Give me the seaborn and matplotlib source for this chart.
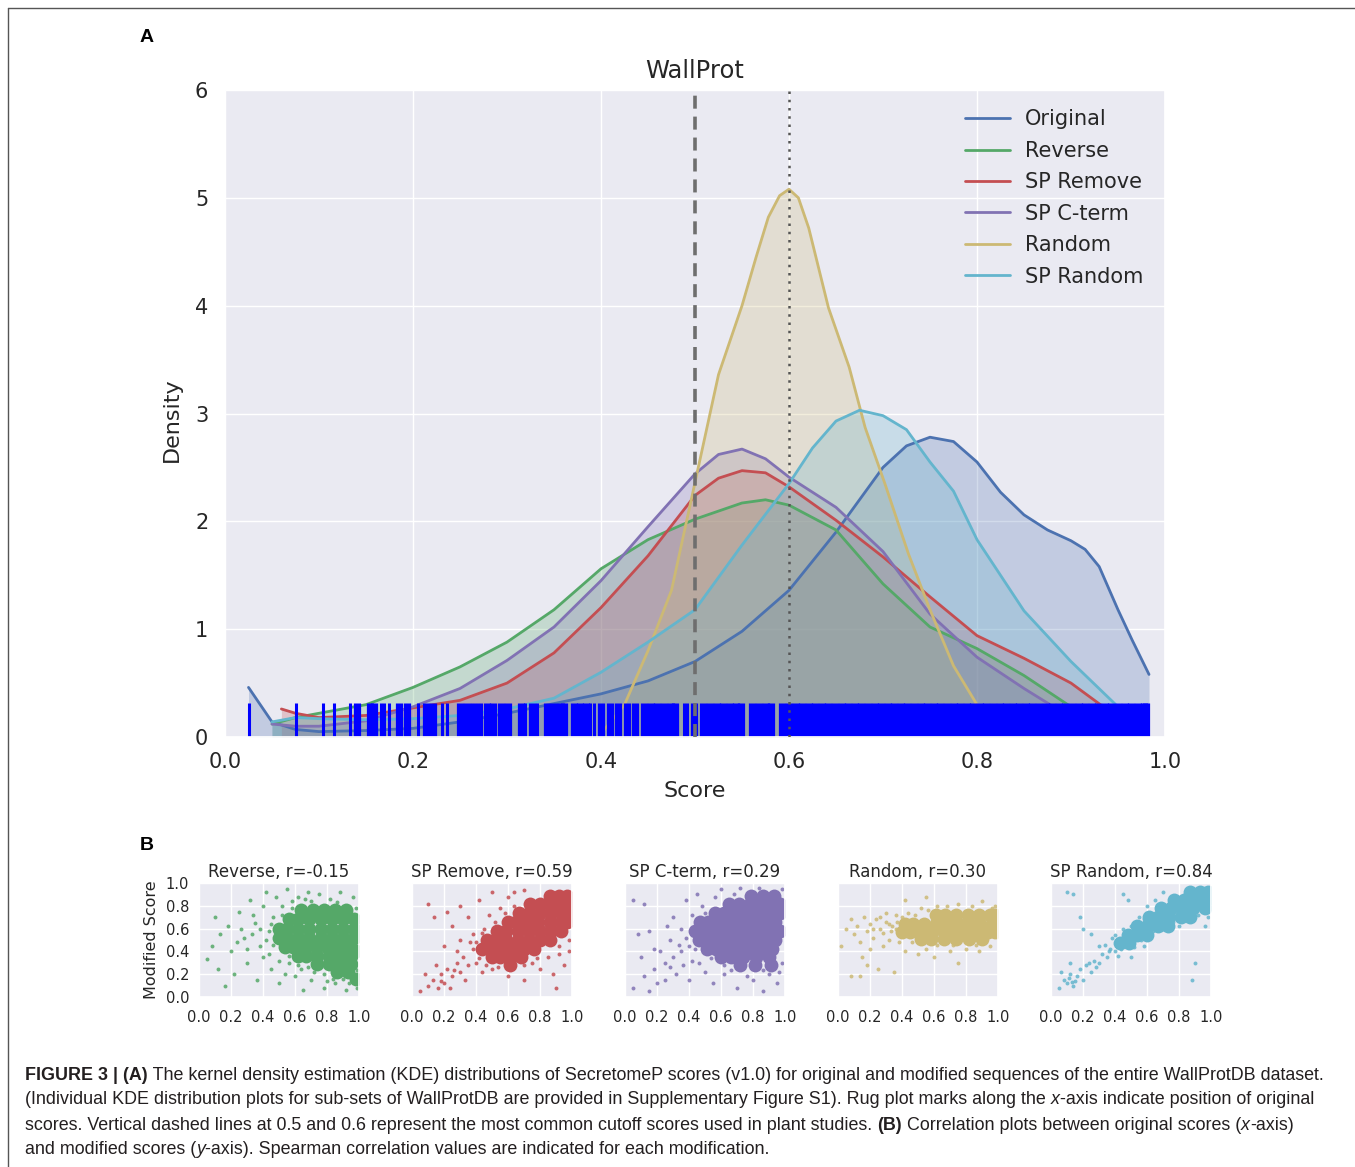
import numpy as np
import matplotlib
matplotlib.use("Agg")
import matplotlib.pyplot as plt
from matplotlib import font_manager
from matplotlib.lines import Line2D
import seaborn as sns

W, H = 1355, 1167

sns.set_theme(style="darkgrid")
plt.rcParams["font.family"] = ["DejaVu Sans"]
palette = sns.color_palette("deep6")

# ----------------------------------------------------------------------
# Panel A data: KDE curves (score, density)
# ----------------------------------------------------------------------
orig_x = [0.025, 0.05, 0.075, 0.1, 0.15, 0.2, 0.25, 0.3, 0.35, 0.4, 0.45, 0.5, 0.55, 0.6, 0.65,
          0.7, 0.725, 0.75, 0.775, 0.8, 0.825, 0.85, 0.875, 0.9, 0.915, 0.93, 0.95, 0.965, 0.983]
orig_y = [0.46, 0.14, 0.07, 0.05, 0.06, 0.08, 0.14, 0.22, 0.31, 0.40, 0.52, 0.70, 0.98, 1.36, 1.90,
          2.50, 2.70, 2.78, 2.74, 2.55, 2.27, 2.06, 1.92, 1.82, 1.74, 1.58, 1.18, 0.90, 0.58]

rev_x = [0.05, 0.075, 0.1, 0.15, 0.2, 0.25, 0.3, 0.35, 0.4, 0.45, 0.5, 0.55, 0.575, 0.6, 0.65,
         0.7, 0.75, 0.8, 0.85, 0.9, 0.95]
rev_y = [0.12, 0.18, 0.22, 0.30, 0.46, 0.65, 0.88, 1.18, 1.56, 1.83, 2.02, 2.17, 2.20, 2.15, 1.92,
         1.42, 1.02, 0.82, 0.57, 0.28, 0.05]

rem_x = [0.06, 0.075, 0.1, 0.15, 0.2, 0.25, 0.3, 0.35, 0.4, 0.45, 0.5, 0.525, 0.55, 0.575, 0.6,
         0.65, 0.7, 0.75, 0.8, 0.85, 0.9, 0.95, 0.97]
rem_y = [0.26, 0.22, 0.18, 0.20, 0.27, 0.34, 0.50, 0.78, 1.20, 1.68, 2.24, 2.40, 2.47, 2.45, 2.32,
         2.01, 1.67, 1.30, 0.94, 0.73, 0.50, 0.18, 0.06]

cterm_x = [0.05, 0.075, 0.1, 0.15, 0.2, 0.25, 0.3, 0.35, 0.4, 0.45, 0.5, 0.525, 0.55, 0.575, 0.6,
           0.65, 0.7, 0.75, 0.8, 0.85, 0.9, 0.93]
cterm_y = [0.12, 0.10, 0.10, 0.15, 0.28, 0.45, 0.71, 1.02, 1.45, 1.95, 2.44, 2.62, 2.67, 2.58, 2.41,
           2.13, 1.72, 1.14, 0.74, 0.45, 0.18, 0.05]

rand_x = [0.40, 0.425, 0.45, 0.475, 0.5, 0.525, 0.55, 0.565, 0.578, 0.59, 0.6, 0.61, 0.621, 0.642,
          0.664, 0.681, 0.702, 0.727, 0.75, 0.775, 0.8, 0.825]
rand_y = [0.03, 0.30, 0.80, 1.36, 2.36, 3.36, 4.00, 4.45, 4.82, 5.02, 5.08, 5.00, 4.72, 3.98,
          3.43, 2.87, 2.35, 1.70, 1.18, 0.66, 0.30, 0.03]

sprand_x = [0.05, 0.075, 0.1, 0.15, 0.2, 0.25, 0.3, 0.35, 0.4, 0.45, 0.5, 0.55, 0.6, 0.625, 0.65,
            0.675, 0.7, 0.725, 0.75, 0.775, 0.8, 0.85, 0.9, 0.95, 0.97]
sprand_y = [0.14, 0.18, 0.17, 0.16, 0.17, 0.20, 0.26, 0.36, 0.60, 0.88, 1.18, 1.78, 2.35, 2.68, 2.93,
            3.03, 2.98, 2.85, 2.55, 2.28, 1.83, 1.17, 0.70, 0.28, 0.08]

series_names = ["Original", "Reverse", "SP Remove", "SP C-term", "Random", "SP Random"]
series_x = [orig_x, rev_x, rem_x, cterm_x, rand_x, sprand_x]
series_y = [orig_y, rev_y, rem_y, cterm_y, rand_y, sprand_y]

# rug of original scores: isolated marks and densely packed marks
rug_single = [0.026, 0.075, 0.104, 0.116, 0.133, 0.166, 0.169, 0.174, 0.205, 0.231, 0.236,
              0.263, 0.266, 0.269, 0.272, 0.319, 0.332, 0.388, 0.393, 0.488, 0.491]
rug_dense = [0.140, 0.154, 0.158, 0.1855, 0.194, 0.214, 0.221, 0.250, 0.257, 0.279, 0.285,
             0.294, 0.301, 0.315, 0.3265, 0.343, 0.350, 0.357, 0.361, 0.371, 0.378, 0.384,
             0.3995, 0.410, 0.418, 0.428, 0.436, 0.446, 0.453, 0.460, 0.467, 0.474, 0.479,
             0.4985, 0.509, 0.516, 0.523, 0.530, 0.537, 0.544, 0.549, 0.561, 0.568,
             0.575, 0.581, 0.593, 0.600, 0.607, 0.614, 0.621, 0.628, 0.635, 0.642, 0.649,
             0.656, 0.663, 0.670, 0.677, 0.684, 0.691, 0.698, 0.705, 0.712, 0.719, 0.726,
             0.733, 0.740, 0.747, 0.754, 0.761, 0.768, 0.775, 0.782, 0.789, 0.796, 0.803,
             0.810, 0.817, 0.824, 0.831, 0.838, 0.845, 0.852, 0.859, 0.866, 0.873, 0.880,
             0.887, 0.894, 0.901, 0.908, 0.915, 0.922, 0.929, 0.936, 0.943, 0.950, 0.957,
             0.964, 0.971, 0.978, 0.980]

xtick_vals = [0.0, 0.2, 0.4, 0.6, 0.8, 1.0]
xtick_labels = ["0.0", "0.2", "0.4", "0.6", "0.8", "1.0"]
ytick_vals = [0, 1, 2, 3, 4, 5, 6]

# ----------------------------------------------------------------------
# Panel B data: (original, modified) score clouds.
# core = densely packed area, sparse = scattered single points
# ----------------------------------------------------------------------
scatter_titles = ["Reverse", "SP Remove", "SP C-term", "Random", "SP Random"]
scatter_r = ["-0.15", "0.59", "0.29", "0.30", "0.84"]

rev_core = [
    (0.64, 0.76), (0.71, 0.76), (0.78, 0.76), (0.85, 0.76), (0.92, 0.76),
    (0.56, 0.68), (0.62, 0.68), (0.69, 0.68), (0.76, 0.68), (0.83, 0.68), (0.90, 0.68), (0.97, 0.68),
    (0.50, 0.60), (0.55, 0.60), (0.62, 0.60), (0.69, 0.60), (0.76, 0.60), (0.83, 0.60), (0.90, 0.60), (0.97, 0.60),
    (0.50, 0.52), (0.55, 0.52), (0.62, 0.52), (0.69, 0.52), (0.76, 0.52), (0.83, 0.52), (0.90, 0.52), (0.97, 0.52),
    (0.54, 0.44), (0.59, 0.44), (0.66, 0.44), (0.73, 0.44), (0.80, 0.44), (0.87, 0.44), (0.94, 0.44), (0.98, 0.40),
    (0.62, 0.36), (0.67, 0.36), (0.74, 0.36), (0.81, 0.36), (0.88, 0.36), (0.95, 0.36),
    (0.74, 0.29), (0.81, 0.29), (0.88, 0.29), (0.95, 0.29),
    (0.86, 0.22), (0.93, 0.22), (0.98, 0.16),
]
rev_sparse = [
    (0.10, 0.70), (0.13, 0.55), (0.08, 0.45), (0.05, 0.33), (0.18, 0.62), (0.20, 0.40), (0.22, 0.20),
    (0.16, 0.10), (0.25, 0.75), (0.28, 0.52), (0.30, 0.30), (0.32, 0.85), (0.35, 0.65), (0.38, 0.45),
    (0.36, 0.15), (0.40, 0.80), (0.42, 0.92), (0.44, 0.58), (0.45, 0.25), (0.48, 0.88), (0.52, 0.80),
    (0.50, 0.12), (0.55, 0.95), (0.56, 0.30), (0.60, 0.18), (0.62, 0.88), (0.65, 0.06), (0.68, 0.92),
    (0.70, 0.15), (0.75, 0.90), (0.78, 0.08), (0.82, 0.86), (0.85, 0.12), (0.88, 0.92), (0.92, 0.06),
    (0.96, 0.88), (0.99, 0.08), (0.40, 0.35), (0.26, 0.60), (0.12, 0.25), (0.34, 0.72), (0.46, 0.70),
    (0.58, 0.84), (0.64, 0.25), (0.72, 0.22), (0.90, 0.16), (0.42, 0.50), (0.30, 0.42), (0.38, 0.60),
    (0.44, 0.38), (0.50, 0.32), (0.54, 0.20), (0.66, 0.86), (0.80, 0.14), (0.24, 0.48), (0.33, 0.55),
    (0.46, 0.46), (0.45, 0.64), (0.52, 0.72), (0.58, 0.78), (0.70, 0.84), (0.86, 0.83), (0.98, 0.78),
    (0.56, 0.36), (0.62, 0.28), (0.68, 0.26), (0.78, 0.20), (0.84, 0.16), (0.94, 0.12), (0.99, 0.24),
]

rem_core = [
    (0.86, 0.89), (0.92, 0.89), (0.97, 0.89),
    (0.74, 0.82), (0.80, 0.82), (0.86, 0.82), (0.92, 0.82), (0.97, 0.82),
    (0.67, 0.74), (0.73, 0.74), (0.80, 0.74), (0.87, 0.74), (0.94, 0.74), (0.97, 0.74),
    (0.60, 0.66), (0.65, 0.66), (0.72, 0.66), (0.79, 0.66), (0.86, 0.66), (0.93, 0.66), (0.97, 0.66),
    (0.53, 0.58), (0.59, 0.58), (0.66, 0.58), (0.73, 0.58), (0.80, 0.58), (0.87, 0.58), (0.93, 0.58),
    (0.47, 0.50), (0.52, 0.50), (0.59, 0.50), (0.66, 0.50), (0.73, 0.50), (0.80, 0.50), (0.86, 0.50),
    (0.44, 0.42), (0.49, 0.42), (0.56, 0.42), (0.63, 0.42), (0.70, 0.42), (0.76, 0.42),
    (0.50, 0.35), (0.55, 0.35), (0.62, 0.35), (0.68, 0.35),
    (0.61, 0.28),
]
rem_sparse = [
    (0.05, 0.05), (0.10, 0.10), (0.13, 0.15), (0.16, 0.08), (0.18, 0.20), (0.20, 0.12), (0.22, 0.25),
    (0.25, 0.18), (0.28, 0.30), (0.30, 0.22), (0.32, 0.35), (0.35, 0.28), (0.38, 0.42), (0.40, 0.30),
    (0.10, 0.82), (0.14, 0.70), (0.22, 0.75), (0.25, 0.62), (0.30, 0.80), (0.35, 0.70), (0.42, 0.85),
    (0.45, 0.60), (0.50, 0.92), (0.55, 0.78), (0.60, 0.88), (0.38, 0.55), (0.30, 0.50), (0.20, 0.45),
    (0.28, 0.40), (0.70, 0.15), (0.80, 0.25), (0.88, 0.20), (0.90, 0.08), (0.95, 0.28), (0.75, 0.30),
    (0.85, 0.35), (0.60, 0.18), (0.98, 0.40), (0.92, 0.45), (0.15, 0.28), (0.24, 0.08), (0.33, 0.15),
    (0.44, 0.22), (0.50, 0.25), (0.64, 0.92), (0.70, 0.94), (0.36, 0.48), (0.48, 0.72), (0.08, 0.20),
    (0.42, 0.34), (0.46, 0.28), (0.54, 0.26), (0.40, 0.48), (0.44, 0.56), (0.52, 0.66), (0.58, 0.74),
    (0.64, 0.80), (0.70, 0.28), (0.78, 0.34), (0.92, 0.38), (0.98, 0.50), (0.18, 0.14), (0.26, 0.24),
]

cterm_core = [
    (0.79, 0.89), (0.86, 0.89), (0.93, 0.89),
    (0.65, 0.82), (0.71, 0.82), (0.78, 0.82), (0.85, 0.82), (0.92, 0.82), (0.97, 0.82),
    (0.56, 0.74), (0.62, 0.74), (0.69, 0.74), (0.76, 0.74), (0.83, 0.74), (0.90, 0.74), (0.97, 0.74),
    (0.47, 0.66), (0.52, 0.66), (0.59, 0.66), (0.66, 0.66), (0.73, 0.66), (0.80, 0.66), (0.87, 0.66), (0.94, 0.66),
    (0.44, 0.58), (0.49, 0.58), (0.56, 0.58), (0.63, 0.58), (0.70, 0.58), (0.77, 0.58), (0.84, 0.58), (0.91, 0.58), (0.97, 0.58),
    (0.46, 0.50), (0.52, 0.50), (0.59, 0.50), (0.66, 0.50), (0.73, 0.50), (0.80, 0.50), (0.87, 0.50), (0.94, 0.50),
    (0.51, 0.42), (0.57, 0.42), (0.64, 0.42), (0.71, 0.42), (0.78, 0.42), (0.85, 0.42), (0.92, 0.42),
    (0.60, 0.35), (0.66, 0.35), (0.74, 0.35), (0.82, 0.35), (0.90, 0.35),
    (0.72, 0.28), (0.81, 0.28), (0.91, 0.28),
]
cterm_sparse = [
    (0.05, 0.85), (0.12, 0.82), (0.08, 0.55), (0.15, 0.58), (0.10, 0.35), (0.05, 0.08), (0.12, 0.18),
    (0.18, 0.25), (0.20, 0.12), (0.22, 0.40), (0.25, 0.30), (0.28, 0.50), (0.30, 0.70), (0.32, 0.20),
    (0.35, 0.40), (0.38, 0.85), (0.40, 0.15), (0.42, 0.32), (0.45, 0.90), (0.50, 0.22), (0.55, 0.12),
    (0.60, 0.95), (0.62, 0.20), (0.70, 0.08), (0.72, 0.96), (0.80, 0.15), (0.86, 0.05), (0.90, 0.20),
    (0.95, 0.12), (0.98, 0.30), (0.35, 0.60), (0.40, 0.45), (0.15, 0.05), (0.25, 0.15), (0.30, 0.35),
    (0.36, 0.28), (0.46, 0.30), (0.48, 0.80), (0.56, 0.88), (0.66, 0.24), (0.76, 0.18), (0.84, 0.96),
    (0.98, 0.95), (0.18, 0.42), (0.26, 0.62), (0.42, 0.72), (0.38, 0.52), (0.44, 0.42), (0.50, 0.74),
    (0.54, 0.34), (0.62, 0.28), (0.68, 0.90), (0.86, 0.24), (0.96, 0.22), (0.34, 0.46), (0.28, 0.26),
]

rand_core = [
    (0.61, 0.72), (0.67, 0.72), (0.74, 0.72), (0.81, 0.72), (0.88, 0.72), (0.95, 0.72), (0.98, 0.72),
    (0.42, 0.64), (0.47, 0.64), (0.54, 0.64), (0.61, 0.64), (0.68, 0.64), (0.75, 0.64), (0.82, 0.64),
    (0.89, 0.64), (0.96, 0.64), (0.98, 0.64),
    (0.40, 0.57), (0.45, 0.57), (0.52, 0.57), (0.59, 0.57), (0.66, 0.57), (0.73, 0.57), (0.80, 0.57),
    (0.87, 0.57), (0.94, 0.57), (0.98, 0.57),
    (0.52, 0.51), (0.58, 0.51), (0.66, 0.51), (0.74, 0.51), (0.82, 0.51), (0.90, 0.51),
]
rand_sparse = [
    (0.02, 0.45), (0.05, 0.60), (0.08, 0.68), (0.10, 0.55), (0.12, 0.62), (0.14, 0.48), (0.16, 0.70),
    (0.18, 0.58), (0.20, 0.64), (0.22, 0.52), (0.24, 0.68), (0.26, 0.60), (0.28, 0.56), (0.30, 0.66),
    (0.32, 0.50), (0.34, 0.62), (0.36, 0.72), (0.38, 0.48), (0.30, 0.74), (0.42, 0.85), (0.55, 0.88),
    (0.62, 0.80), (0.75, 0.82), (0.90, 0.84), (0.98, 0.80), (0.15, 0.35), (0.18, 0.28), (0.25, 0.25),
    (0.08, 0.18), (0.14, 0.18), (0.35, 0.22), (0.42, 0.40), (0.50, 0.38), (0.55, 0.42), (0.60, 0.35),
    (0.70, 0.40), (0.75, 0.30), (0.80, 0.42), (0.88, 0.40), (0.95, 0.45), (0.45, 0.55), (0.20, 0.42),
    (0.28, 0.45), (0.26, 0.70), (0.33, 0.58), (0.37, 0.66), (0.44, 0.74), (0.52, 0.78), (0.68, 0.80),
    (0.84, 0.80), (0.36, 0.60), (0.38, 0.54), (0.40, 0.70), (0.48, 0.72), (0.46, 0.48), (0.56, 0.76),
    (0.62, 0.46), (0.72, 0.46), (0.86, 0.46), (0.96, 0.78), (0.22, 0.60), (0.32, 0.64),
]

sprand_core = [
    (0.87, 0.92), (0.93, 0.92), (0.98, 0.92),
    (0.77, 0.85), (0.83, 0.85), (0.90, 0.85), (0.97, 0.85),
    (0.69, 0.78), (0.75, 0.78), (0.82, 0.78), (0.89, 0.78), (0.96, 0.78),
    (0.61, 0.70), (0.67, 0.70), (0.74, 0.70), (0.81, 0.70), (0.87, 0.70),
    (0.54, 0.62), (0.60, 0.62), (0.67, 0.62), (0.73, 0.62),
    (0.48, 0.54), (0.54, 0.54), (0.60, 0.54),
    (0.43, 0.47), (0.49, 0.47),
]
sprand_sparse = [
    (0.05, 0.08), (0.08, 0.15), (0.10, 0.12), (0.12, 0.20), (0.14, 0.10), (0.16, 0.18), (0.18, 0.25),
    (0.20, 0.15), (0.22, 0.28), (0.25, 0.22), (0.27, 0.32), (0.30, 0.30), (0.32, 0.38), (0.35, 0.35),
    (0.37, 0.42), (0.40, 0.40), (0.38, 0.52), (0.30, 0.45), (0.12, 0.30), (0.06, 0.22), (0.10, 0.92),
    (0.14, 0.90), (0.45, 0.90), (0.48, 0.85), (0.20, 0.60), (0.18, 0.70), (0.25, 0.55), (0.58, 0.45),
    (0.62, 0.55), (0.70, 0.60), (0.80, 0.62), (0.85, 0.70), (0.92, 0.72), (0.98, 0.70), (0.96, 0.62),
    (0.90, 0.30), (0.88, 0.15), (0.55, 0.70), (0.60, 0.80), (0.65, 0.85), (0.70, 0.92), (0.50, 0.35),
    (0.45, 0.60), (0.34, 0.46), (0.42, 0.36), (0.28, 0.26), (0.15, 0.14), (0.52, 0.44), (0.11, 0.17),
    (0.13, 0.13), (0.24, 0.30), (0.36, 0.40), (0.44, 0.42), (0.56, 0.50), (0.64, 0.58), (0.76, 0.66),
    (0.86, 0.76), (0.92, 0.82), (0.40, 0.54), (0.50, 0.62), (0.58, 0.68), (0.66, 0.76), (0.78, 0.88),
]

scatter_core = [rev_core, rem_core, cterm_core, rand_core, sprand_core]
scatter_sparse = [rev_sparse, rem_sparse, cterm_sparse, rand_sparse, sprand_sparse]
b_ticks = [0.0, 0.2, 0.4, 0.6, 0.8, 1.0]
b_ticklabels = ["0.0", "0.2", "0.4", "0.6", "0.8", "1.0"]

caption_lines = [
    [("FIGURE 3 | (A)", "bold", "normal"),
     (" The kernel density estimation (KDE) distributions of SecretomeP scores (v1.0) for original "
      "and modified sequences of the entire WallProtDB dataset.", "normal", "normal")],
    [("(Individual KDE distribution plots for sub-sets of WallProtDB are provided in Supplementary "
      "Figure S1). Rug plot marks along the ", "normal", "normal"),
     ("x", "normal", "italic"),
     ("-axis indicate position of original", "normal", "normal")],
    [("scores. Vertical dashed lines at 0.5 and 0.6 represent the most common cutoff scores used in "
      "plant studies. ", "normal", "normal"),
     ("(B)", "bold", "normal"),
     (" Correlation plots between original scores (", "normal", "normal"),
     ("x", "normal", "italic"),
     ("-axis)", "normal", "normal")],
    [("and modified scores (", "normal", "normal"),
     ("y", "normal", "italic"),
     ("-axis). Spearman correlation values are indicated for each modification.", "normal", "normal")],
]


def px_rect(left, top, right, bottom):
    return [left / W, 1 - bottom / H, (right - left) / W, (bottom - top) / H]


fig = plt.figure(figsize=(W / 100, H / 100), dpi=100)
fig.patch.set_facecolor("white")

# ----------------------------------------------------------------------
# Panel A
# ----------------------------------------------------------------------
ax = fig.add_axes(px_rect(225, 90, 1165, 737))
for name, xs, ys, c in zip(series_names, series_x, series_y, palette):
    ax.fill_between(xs, ys, 0, color=c, alpha=0.25, lw=0)
    sns.lineplot(x=xs, y=ys, color=c, linewidth=2, label=name, ax=ax, estimator=None, sort=False)

sns.rugplot(x=rug_single, height=0.053, color="blue", linewidth=2.2, ax=ax, expand_margins=False)
sns.rugplot(x=rug_dense, height=0.053, color="blue", linewidth=5.2, ax=ax, expand_margins=False)

ax.axvline(0.5, color="#6e6e6e", lw=2.6, ls=(0, (3.6, 2.2)), zorder=5)
ax.axvline(0.6, color="#555555", lw=1.8, ls=(0, (1, 2.3)), zorder=5)

ax.set_xlim(0, 1)
ax.set_ylim(0, 6)
ax.set_xticks(xtick_vals)
ax.set_xticklabels(xtick_labels)
ax.set_yticks(ytick_vals)
ax.tick_params(axis="both", labelsize=15, colors=".15", length=0)
ax.tick_params(axis="x", pad=11)
ax.tick_params(axis="y", pad=12)
ax.set_xlabel("Score", fontsize=16, color=".15")
ax.set_ylabel("Density", fontsize=16, color=".15")
ax.xaxis.set_label_coords(0.5, -0.068)
ax.yaxis.set_label_coords(-0.046, 0.49)
ax.set_title("WallProt", fontsize=17.5, color=".15", pad=9)
ax.legend(loc="upper left", bbox_to_anchor=(0.787, 0.970), frameon=False, fontsize=15,
          handlelength=2.15, handletextpad=0.72, labelspacing=0.55, borderpad=0,
          borderaxespad=0, labelcolor=".15")

# ----------------------------------------------------------------------
# Panel B
# ----------------------------------------------------------------------
for i in range(5):
    left = 199 + 213 * i
    bx = fig.add_axes(px_rect(left, 883, left + 160, 997))
    c = palette[i + 1]
    core = np.array(scatter_core[i])
    sparse = np.array(scatter_sparse[i])
    sns.scatterplot(x=core[:, 0], y=core[:, 1], s=100, color=c, linewidth=0, ax=bx)
    sns.scatterplot(x=sparse[:, 0], y=sparse[:, 1], s=8, color=c, linewidth=0, alpha=0.85, ax=bx)
    bx.set_xlim(0, 1)
    bx.set_ylim(0, 1)
    bx.set_xticks(b_ticks)
    bx.set_xticklabels(b_ticklabels)
    bx.set_yticks(b_ticks)
    bx.tick_params(axis="both", labelsize=10.5, colors=".15", length=0)
    bx.tick_params(axis="x", pad=9)
    bx.tick_params(axis="y", pad=7)
    bx.set_title(f"{scatter_titles[i]}, r={scatter_r[i]}", fontsize=12, color=".15", pad=4)
    if i == 0:
        bx.set_yticklabels(b_ticklabels)
        bx.set_ylabel("Modified Score", fontsize=11.5, color=".15", labelpad=5)
    else:
        bx.set_yticklabels([])

# ----------------------------------------------------------------------
# Panel letters, border and caption
# ----------------------------------------------------------------------
fig.text(147 / W, 1 - 37 / H, "A", fontsize=14, fontweight="bold", family="Liberation Sans",
         ha="center", va="center", color="black")
fig.text(147 / W, 1 - 845 / H, "B", fontsize=14, fontweight="bold", family="Liberation Sans",
         ha="center", va="center", color="black")

fig.add_artist(Line2D([8 / W, 1.0], [1 - 8 / H, 1 - 8 / H], transform=fig.transFigure,
                      color="#555555", lw=1))
fig.add_artist(Line2D([8 / W, 8 / W], [0.0, 1 - 8 / H], transform=fig.transFigure,
                      color="#555555", lw=1))

installed = {f.name for f in font_manager.fontManager.ttflist}
cap_font = "Liberation Sans Narrow" if "Liberation Sans Narrow" in installed else "Liberation Sans"
renderer = fig.canvas.get_renderer()


def run_width(text, size, weight, style):
    t = fig.text(0, 0, text + "|", fontsize=size, fontweight=weight, fontstyle=style, family=cap_font)
    b = fig.text(0, 0, "|", fontsize=size, fontweight=weight, fontstyle=style, family=cap_font)
    w = t.get_window_extent(renderer).width - b.get_window_extent(renderer).width
    t.remove()
    b.remove()
    return w


trial = 10.0
line1_w = sum(run_width(s, trial, wt, st) for s, wt, st in caption_lines[0])
cap_size = trial * (1328 - 25) / line1_w

for k, runs in enumerate(caption_lines):
    x = 25.0
    y = 1075 + 25 * k
    for s, wt, st in runs:
        fig.text(x / W, 1 - y / H, s, fontsize=cap_size, fontweight=wt, fontstyle=st,
                 family=cap_font, ha="left", va="center", color="#231f20")
        x += run_width(s, cap_size, wt, st)

fig.savefig("out.png", dpi=100)
